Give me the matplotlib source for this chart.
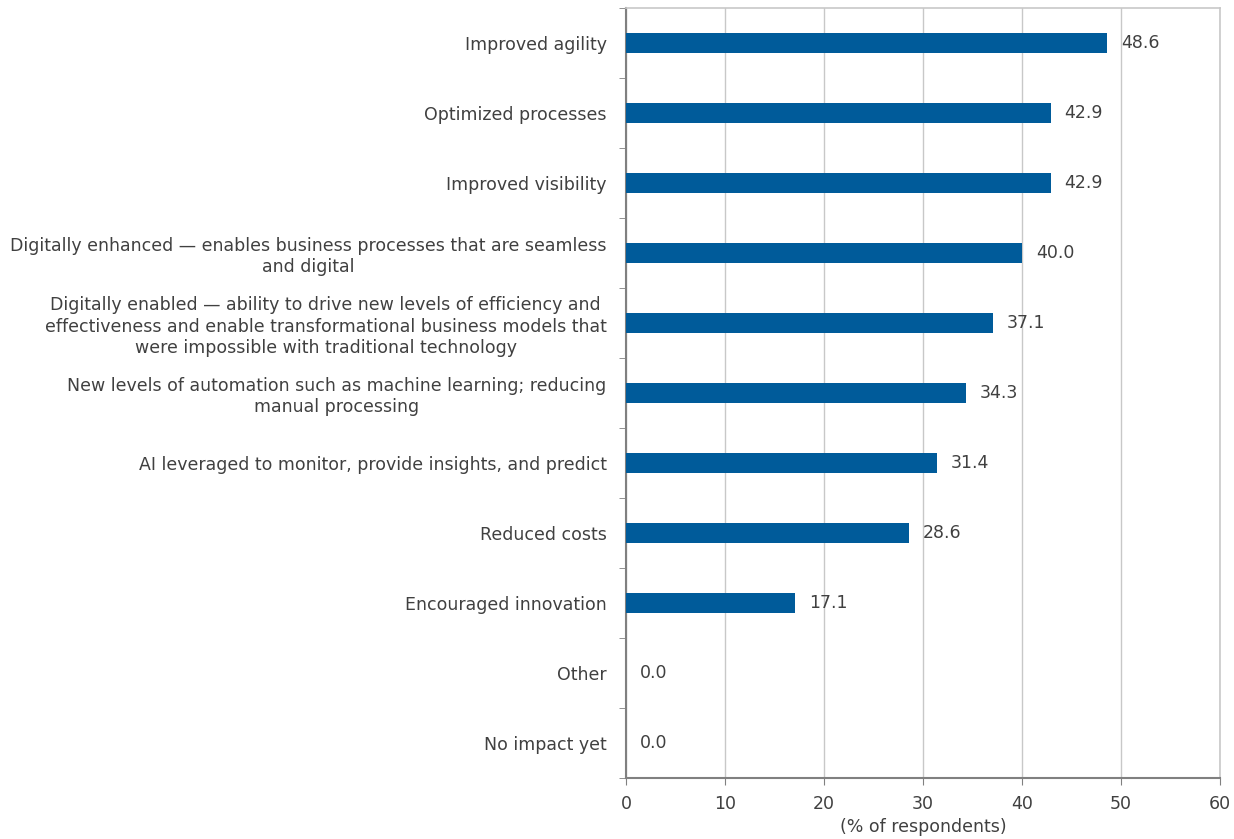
import numpy as np
import matplotlib.pyplot as plt

categories = [
    "Improved agility",
    "Optimized processes",
    "Improved visibility",
    "Digitally enhanced \u2014 enables business processes that are seamless\nand digital",
    "Digitally enabled \u2014 ability to drive new levels of efficiency and\neffectiveness and enable transformational business models that\nwere impossible with traditional technology",
    "New levels of automation such as machine learning; reducing\nmanual processing",
    "AI leveraged to monitor, provide insights, and predict",
    "Reduced costs",
    "Encouraged innovation",
    "Other",
    "No impact yet",
]
values = [48.6, 42.9, 42.9, 40.0, 37.1, 34.3, 31.4, 28.6, 17.1, 0.0, 0.0]

bar_color = "#005b9a"
text_color = "#404040"
plt.rcParams['font.family'] = ['DejaVu Sans Condensed', 'DejaVu Sans']
fs = 12.55

fig = plt.figure(figsize=(12.34, 8.39), dpi=100)
ax = fig.add_axes([626 / 1234, 1 - 778 / 839, (1220 - 626) / 1234, (778 - 8) / 839])

y = np.arange(len(categories))
ax.barh(y, values, height=0.29, color=bar_color, zorder=3)
for yi, v in zip(y, values):
    ax.annotate(f"{v:.1f}", (v, yi), xytext=(10, 0), textcoords="offset points",
                va="center", ha="left", fontsize=fs, color=text_color)

ax.set_ylim(len(categories) - 0.5, -0.5)
ax.set_xlim(0, 60)
ax.set_xticks(np.arange(0, 61, 10))
ax.set_yticks(y)
ax.set_yticklabels(categories, fontsize=fs, color=text_color, ha="right",
                   multialignment="center", linespacing=1.25)
ax.set_yticks(np.arange(-0.5, len(categories), 1), minor=True)
ax.tick_params(axis="y", which="major", length=0, pad=14)
ax.tick_params(axis="y", which="minor", length=5, color="#808080", direction="out")
ax.tick_params(axis="x", length=5, color="#808080", labelsize=fs, labelcolor=text_color, pad=7)
ax.xaxis.grid(True, color="#c8c8c8", linewidth=1.0, zorder=0)
ax.set_axisbelow(True)
for s in ["top", "right"]:
    ax.spines[s].set_color("#c8c8c8")
    ax.spines[s].set_linewidth(1.2)
for s in ["left", "bottom"]:
    ax.spines[s].set_color("#808080")
    ax.spines[s].set_linewidth(1.5)
ax.set_xlabel("(% of respondents)", fontsize=fs, color=text_color, labelpad=4)

fig.savefig("out.png", dpi=100)
